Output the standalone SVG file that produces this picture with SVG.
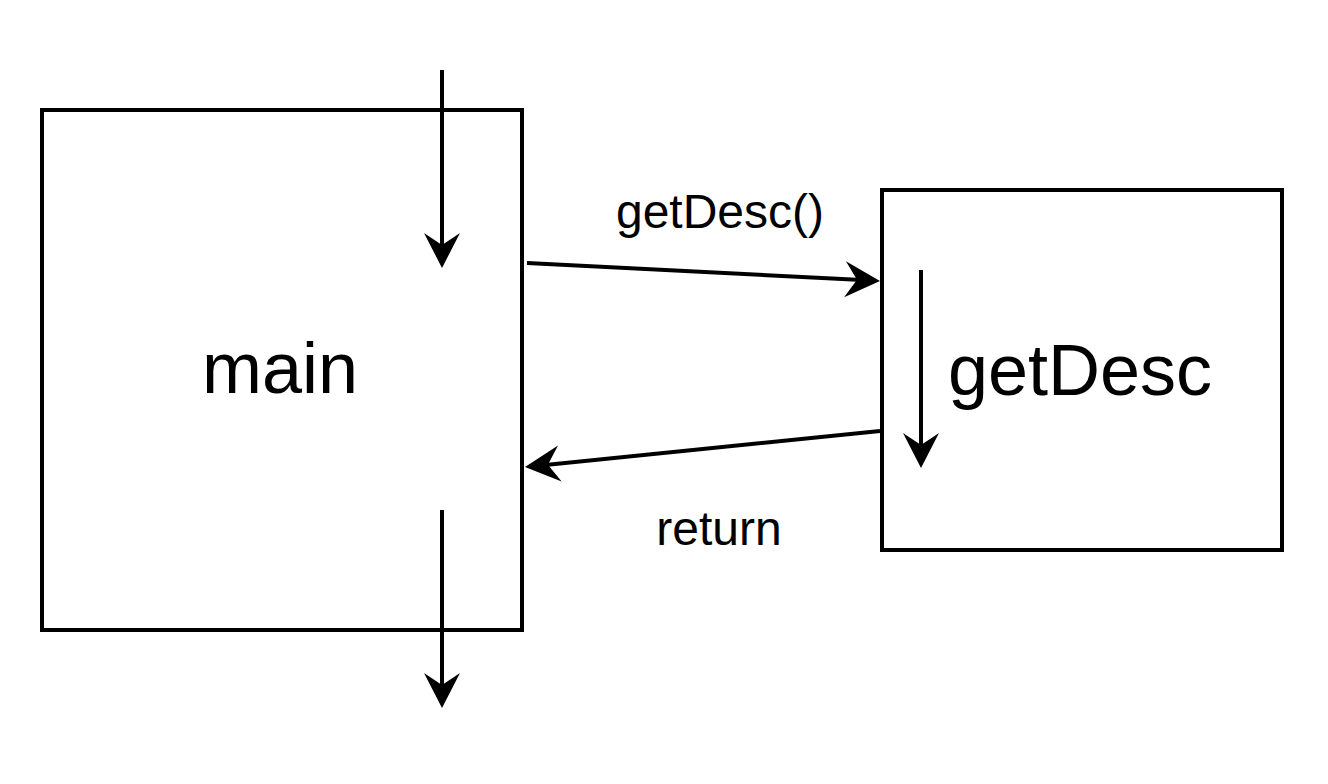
<svg xmlns="http://www.w3.org/2000/svg" width="1328" height="784" viewBox="0 0 1328 784">
<style>
.box{fill:#fff;stroke:#000;stroke-width:4}
.edge{fill:none;stroke:#000;stroke-width:4}
.big{font-family:"Liberation Sans",Arial,sans-serif;font-size:72px;fill:#000;text-anchor:middle}
.lbl{font-family:"Liberation Sans",Arial,sans-serif;font-size:48px;fill:#000;text-anchor:middle}
</style>
<defs>
<marker id="arr" markerUnits="userSpaceOnUse" markerWidth="36" markerHeight="38" viewBox="0 0 36 38" refX="12" refY="19" orient="auto">
<path d="M0,1 L35,19 L0,37 L12,19 Z" fill="#000"/>
</marker>
</defs>
<rect width="1328" height="784" fill="#fff"/>
<g id="main">
<rect class="box" x="42" y="110" width="480" height="520"/>
<text class="big" x="280" y="393">main</text>
</g>
<g id="getDesc">
<rect class="box" x="882" y="190" width="400" height="360"/>
<text class="big" x="1080" y="395">getDesc</text>
</g>
<g id="connectors">
<line class="edge" x1="442" y1="70" x2="442" y2="245" marker-end="url(#arr)"/>
<line class="edge" x1="442" y1="510" x2="442" y2="685" marker-end="url(#arr)"/>
<line class="edge" x1="921" y1="270" x2="921" y2="445" marker-end="url(#arr)"/>
<line class="edge" x1="527" y1="263" x2="857" y2="279.8" marker-end="url(#arr)"/>
<line class="edge" x1="880" y1="431" x2="547.9" y2="464.7" marker-end="url(#arr)"/>
</g>
<g id="labels">
<text class="lbl" x="720" y="228">getDesc()</text>
<text class="lbl" x="719" y="545">return</text>
</g>
</svg>
